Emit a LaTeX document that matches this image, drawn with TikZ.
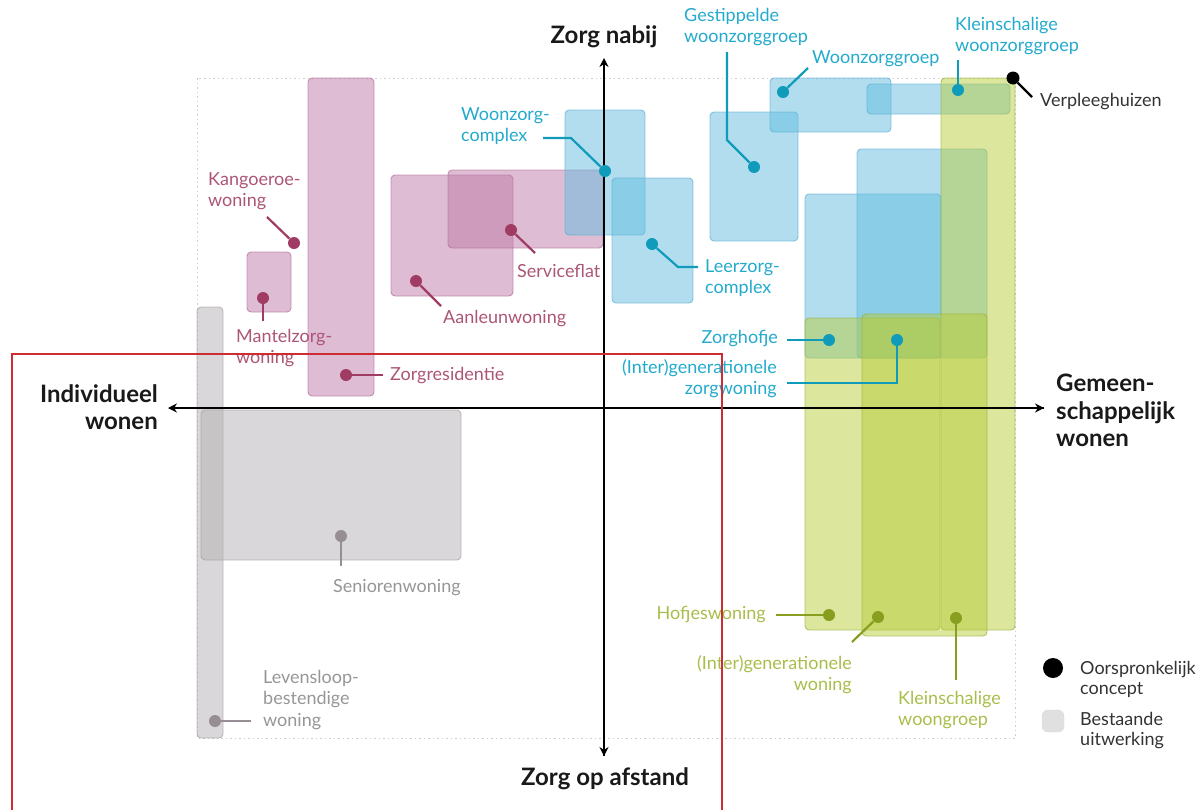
\documentclass[tikz,border=0pt]{standalone}
\usepackage{fontspec}
\setmainfont{Lato}
\usetikzlibrary{arrows.meta}
\definecolor{pinkfill}{RGB}{190,122,168}
\definecolor{pinkline}{RGB}{180,110,155}
\definecolor{pinkdot}{RGB}{160,60,100}
\definecolor{pinktext}{RGB}{172,85,118}
\definecolor{bluefill}{RGB}{100,188,222}
\definecolor{blueline}{RGB}{90,175,210}
\definecolor{bluedot}{RGB}{15,155,185}
\definecolor{bluetext}{RGB}{35,170,205}
\definecolor{greenfill}{RGB}{185,205,60}
\definecolor{greenline}{RGB}{150,175,60}
\definecolor{greendot}{RGB}{135,158,30}
\definecolor{greentext}{RGB}{168,190,75}
\definecolor{greyfill}{RGB}{180,176,179}
\definecolor{greyline}{RGB}{165,160,163}
\definecolor{greydot}{RGB}{150,142,148}
\definecolor{greytext}{RGB}{150,150,150}
\definecolor{framegrey}{RGB}{205,205,205}
\definecolor{redframe}{RGB}{205,45,50}
\begin{document}
\begin{tikzpicture}[x=1pt,y=-1pt,
  box/.style={rounded corners=4pt, line width=0.9pt, fill opacity=0.5, draw opacity=0.7},
  pinkbox/.style={box, fill=pinkfill, draw=pinkline},
  bluebox/.style={box, fill=bluefill, draw=blueline},
  greenbox/.style={box, fill=greenfill, draw=greenline},
  greybox/.style={box, fill=greyfill, draw=greyline},
  dot/.style={circle, inner sep=0pt, minimum size=12pt},
  lead/.style={line width=2.2pt},
  lbl/.style={font=\fontsize{18}{21.5}\selectfont, inner sep=0pt},
  legendlbl/.style={font=\fontsize{18}{20}\selectfont, inner sep=0pt, text=black!80},
  axislbl/.style={font=\fontsize{24}{27.5}\selectfont\bfseries, inner sep=0pt, text=black!90},
  axisarrow/.style={line width=1.8pt, -{Stealth[length=9pt,width=9pt]}}
]
\useasboundingbox (0,0) rectangle (1199,809);

% dotted outline of the field
\draw[framegrey, line width=1pt, dash pattern=on 1.5pt off 3pt] (197,78) rectangle (1015,738);

% existing elaborations (grey)
\draw[greybox] (197,307) rectangle (223,738);
\draw[greybox] (201,410) rectangle (461,560);

% pink concepts
\draw[pinkbox] (308,78) rectangle (374,396);
\draw[pinkbox] (247,252) rectangle (291,312);
\draw[pinkbox] (391,175) rectangle (513,296);
\draw[pinkbox] (448,170) rectangle (603,248);

% blue concepts
\draw[bluebox] (565,110) rectangle (645,235);
\draw[bluebox] (612,178) rectangle (693,303);
\draw[bluebox] (710,112) rectangle (798,241);
\draw[bluebox] (770,78) rectangle (891,132);
\draw[bluebox] (867,84) rectangle (1010,114);
\draw[bluebox] (805,194) rectangle (941,358);
\draw[bluebox] (857,149) rectangle (987,358);

% yellow-green concepts
\draw[greenbox] (941,78) rectangle (1015,630);
\draw[greenbox] (805,318) rectangle (940,630);
\draw[greenbox] (862,314) rectangle (987,636);

% axes
\coordinate (vtop) at (604,58);
\coordinate (vbot) at (604,756);
\coordinate (hleft) at (168,408);
\coordinate (hright) at (1044,408);
\draw[axisarrow] (vbot) -- (vtop);
\draw[axisarrow] (604,408) -- (vbot);
\draw[axisarrow] (hright) -- (hleft);
\draw[axisarrow] (604,408) -- (hright);

\node[axislbl, anchor=base] (zn) at (604,43) {Zorg nabij};
\node[axislbl, anchor=base] (zoa) at (605,785) {Zorg op afstand};
\node[axislbl, anchor=north east, align=right] (iw) at (158,384) {Individueel\\wonen};
\node[axislbl, anchor=north west, align=left] (gw) at (1056,374) {Gemeen-\\schappelijk\\wonen};

% ---- pink labels
\node[dot, fill=pinkdot] (kdot) at (294,243) {};
\coordinate (kend) at (267,217);
\draw[lead, pinkdot] (kdot) -- (kend);
\node[lbl, text=pinktext, anchor=north west, align=left] (klbl) at (208,172) {Kangoeroe-\\woning};

\node[dot, fill=pinkdot] (mdot) at (263,298) {};
\coordinate (mend) at (263,321);
\draw[lead, pinkdot] (mdot) -- (mend);
\node[lbl, text=pinktext, anchor=north west, align=left] (mlbl) at (236,329) {Mantelzorg-\\woning};

\node[dot, fill=pinkdot] (zdot) at (346,375) {};
\node[lbl, text=pinktext, anchor=west] (zlbl) at (390,376) {Zorgresidentie};
\draw[lead, pinkdot] (zdot) -- (383,375);

\node[dot, fill=pinkdot] (adot) at (416,281) {};
\coordinate (aend) at (441,306);
\draw[lead, pinkdot] (adot) -- (aend);
\node[lbl, text=pinktext, anchor=west] (albl) at (443,319) {Aanleunwoning};

\node[dot, fill=pinkdot] (sdot) at (511,230) {};
\coordinate (send) at (535,253);
\draw[lead, pinkdot] (sdot) -- (send);
\node[lbl, text=pinktext, anchor=west] (slbl) at (517,271) {Serviceflat};

% ---- blue labels
\node[dot, fill=bluedot] (wcdot) at (605,171) {};
\coordinate (wcbend) at (571,138);
\coordinate (wcend) at (543,138);
\draw[lead, bluedot] (wcdot) -- (wcbend) -- (wcend);
\node[lbl, text=bluetext, anchor=north west, align=left] (wclbl) at (461,107) {Woonzorg-\\complex};

\node[dot, fill=bluedot] (lzdot) at (652,244) {};
\coordinate (lzbend) at (678,267);
\coordinate (lzend) at (698,267);
\draw[lead, bluedot] (lzdot) -- (lzbend) -- (lzend);
\node[lbl, text=bluetext, anchor=north west, align=left] (lzlbl) at (705,259) {Leerzorg-\\complex};

\node[dot, fill=bluedot] (gwdot) at (754,167) {};
\coordinate (gwbend) at (727,140);
\coordinate (gwend) at (727,52);
\draw[lead, bluedot] (gwdot) -- (gwbend) -- (gwend);
\node[lbl, text=bluetext, anchor=north west, align=left] (gwlbl) at (684,8) {Gestippelde\\woonzorggroep};

\node[dot, fill=bluedot] (wgdot) at (783,92) {};
\coordinate (wgend) at (808,68);
\draw[lead, bluedot] (wgdot) -- (wgend);
\node[lbl, text=bluetext, anchor=west] (wglbl) at (812,59) {Woonzorggroep};

\node[dot, fill=bluedot] (kwdot) at (958,90) {};
\coordinate (kwend) at (958,60);
\draw[lead, bluedot] (kwdot) -- (kwend);
\node[lbl, text=bluetext, anchor=north west, align=left] (kwlbl) at (955,17) {Kleinschalige\\woonzorggroep};

\node[dot, fill=bluedot] (zhdot) at (829,340) {};
\coordinate (zhend) at (787,340);
\draw[lead, bluedot] (zhdot) -- (zhend);
\node[lbl, text=bluetext, anchor=east] (zhlbl) at (778,339) {Zorghofje};

\node[dot, fill=bluedot] (izdot) at (897,340) {};
\coordinate (izbend) at (897,383);
\coordinate (izend) at (787,383);
\draw[lead, bluedot] (izdot) -- (izbend) -- (izend);
\node[lbl, text=bluetext, anchor=north east, align=right] (izlbl) at (777,359) {(Inter)generationele\\zorgwoning};

% ---- green labels
\node[dot, fill=greendot] (hwdot) at (829,615) {};
\coordinate (hwend) at (776,615);
\draw[lead, greendot] (hwdot) -- (hwend);
\node[lbl, text=greentext, anchor=east] (hwlbl) at (766,615) {Hofjeswoning};

\node[dot, fill=greendot] (iwdot) at (878,617) {};
\coordinate (iwend) at (852,642);
\draw[lead, greendot] (iwdot) -- (iwend);
\node[lbl, text=greentext, anchor=north east, align=right] (iwlbl) at (852,655) {(Inter)generationele\\woning};

\node[dot, fill=greendot] (kgdot) at (956,618) {};
\coordinate (kgend) at (956,680);
\draw[lead, greendot] (kgdot) -- (kgend);
\node[lbl, text=greentext, anchor=north west, align=left] (kglbl) at (898,691) {Kleinschalige\\woongroep};

% ---- grey labels
\node[dot, fill=greydot] (sndot) at (341,536) {};
\coordinate (snend) at (341,566);
\draw[lead, greydot] (sndot) -- (snend);
\node[lbl, text=greytext, anchor=west] (snlbl) at (333,588) {Seniorenwoning};

\node[dot, fill=greydot] (lbdot) at (215,721) {};
\coordinate (lbend) at (251,721);
\draw[lead, greydot] (lbdot) -- (lbend);
\node[lbl, text=greytext, anchor=north west, align=left] (lblbl) at (263,670) {Levensloop-\\bestendige\\woning};

% ---- nursing homes
\node[dot, fill=black, minimum size=13pt] (vhdot) at (1013,78) {};
\coordinate (vhend) at (1032,97);
\draw[lead, black] (vhdot) -- (vhend);
\node[lbl, text=black!80, anchor=west] (vhlbl) at (1040,102) {Verpleeghuizen};

% ---- legend
\node[circle, fill=black, inner sep=0pt, minimum size=20pt] (lgdot) at (1053,668) {};
\node[legendlbl, anchor=north west, align=left] (lgdotlbl) at (1080,661) {Oorspronkelijk\\concept};
\node[rounded corners=6pt, fill=black!12, draw=black!15, inner sep=0pt, minimum size=22pt] (lgbox) at (1053,721) {};
\node[legendlbl, anchor=north west, align=left] (lgboxlbl) at (1080,712) {Bestaande\\uitwerking};

% red outline
\draw[redframe, line width=1.6pt] (12,812) -- (12,354) -- (722,354) -- (722,812);
\end{tikzpicture}
\end{document}
